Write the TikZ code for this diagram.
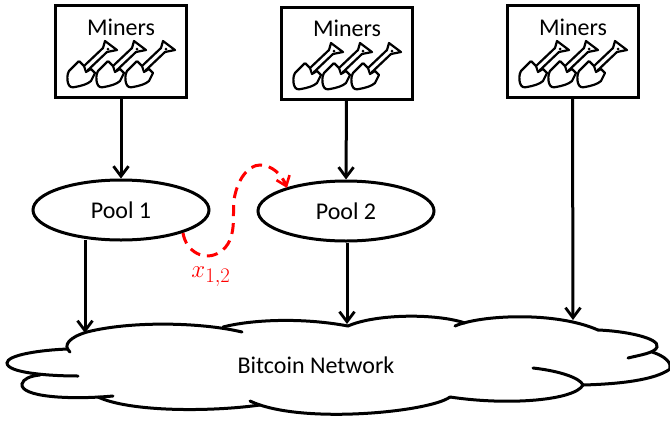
\documentclass[tikz,border=0pt]{standalone}
\usepackage{fontspec}
\setmainfont{Carlito}
\usetikzlibrary{arrows.meta,shapes.geometric}
\tikzset{
  x=1pt,y=-1pt,
  minerbox/.style={draw=black,line width=3pt,fill=white,minimum width=131pt,minimum height=92pt,inner sep=0pt},
  lbl/.style={font=\fontsize{24}{28}\selectfont,inner sep=0pt},
  poolnode/.style={draw=black,line width=3pt,fill=white,shape=ellipse,minimum width=176pt,minimum height=60pt,inner sep=0pt,lbl},
  flow/.style={draw=black,line width=3pt,-{Straight Barb[length=10pt,width=15pt,line width=2.8pt]}},
  cloudline/.style={draw=black,line width=3pt,line cap=round},
  shovel/.pic={
    \draw[black,line width=2.2pt,line join=round]
      (-4,6) -- (-14,16)
      .. controls (-16,19) and (-16,25) .. (-15,28)
      .. controls (-14,32) and (-11,33) .. (-8,32)
      .. controls (-2,31) and (5,29) .. (8,26)
      -- (12,18) -- (8,14);
    \draw[black,line width=2.2pt,line join=round]
      (-4,6) -- (1,11) -- (3,17) -- (8,14) -- (5,15)
      -- (24,-3) -- (34,-5) -- (22,-14) -- (20,-7) -- (1,11);
    \fill[black] (25,-6) circle (1.5pt);
  }
}
\begin{document}
\begin{tikzpicture}
\useasboundingbox (0,0) rectangle (670,424);
\node[minerbox] (b1) at (121,51.5) {};
\node[minerbox] (b2) at (346.5,53) {};
\node[minerbox] (b3) at (572.5,51.5) {};
\node[lbl] (m1) at (121,27) {Miners};
\node[lbl] (m2) at (347,28) {Miners};
\node[lbl] (m3) at (573,27) {Miners};
\foreach \sx/\sy in {83/55,112/55,141/55,309/57,338/57,367/57,535/55,564/55,593/55}
  \pic at (\sx,\sy) {shovel};
\node[poolnode] (p1) at (121,210) {Pool 1};
\node[poolnode] (p2) at (346,211) {Pool 2};
\coordinate (c1) at (85,333);
\coordinate (c2) at (347,324);
\coordinate (c3) at (573,320);
\draw[flow] (b1.south) -- (p1.north);
\draw[flow] (b2.south) -- (p2.north);
\draw[flow] (b3.south) -- (c3);
\draw[flow] (85,240) -- (c1);
\draw[flow] (c2 |- p2.south) -- (c2);
% cloud
\draw[cloudline] (70,352) .. controls (62,345) and (70,337) .. (87,332) .. controls (130,321) and (200,322) .. (242,332);
\draw[cloudline] (223,327) .. controls (250,320) and (300,317) .. (348,326);
\draw[cloudline] (348,326) .. controls (375,314) and (435,313) .. (465,323);
\draw[cloudline] (455,326) .. controls (480,315) and (555,311) .. (598,330);
\draw[cloudline] (598,330) .. controls (625,331) and (660,338) .. (657,347) .. controls (655,353) and (640,355) .. (628,358);
\draw[cloudline] (652,352) .. controls (665,356) and (672,363) .. (670,369) .. controls (655,380) and (620,384) .. (583,385);
\draw[cloudline] (533,368) .. controls (560,371) and (580,378) .. (583,385) .. controls (575,400) and (510,406) .. (450,397);
\draw[cloudline] (450,397) .. controls (430,412) and (300,425) .. (250,401);
\draw[cloudline] (260,405) .. controls (210,412) and (130,412) .. (98,397);
\draw[cloudline] (113,396) .. controls (70,400) and (20,397) .. (22,384) .. controls (23,379) and (30,376) .. (40,375);
\draw[cloudline] (78,376) .. controls (50,376) and (7,373) .. (7,363) .. controls (7,355) and (40,350) .. (68,349);
\node[lbl] (net) at (316,365) {Bitcoin Network};
% red
\coordinate (r1) at (183,233);
\coordinate (r2) at (287,188);
\draw[red,line width=3pt,dash pattern=on 11pt off 7pt,-{Straight Barb[length=9pt,width=14pt,line width=2.6pt]}]
  (r1) .. controls (186,252) and (205,262) .. (220,252)
  .. controls (238,240) and (232,215) .. (234,200)
  .. controls (237,180) and (248,165) .. (260,165)
  .. controls (272,165) and (282,175) .. (r2);
\node[red,inner sep=0pt,font=\fontsize{28}{32}\selectfont] (x12) at (211,277) {$x_{1,2}$};
\end{tikzpicture}
\end{document}
